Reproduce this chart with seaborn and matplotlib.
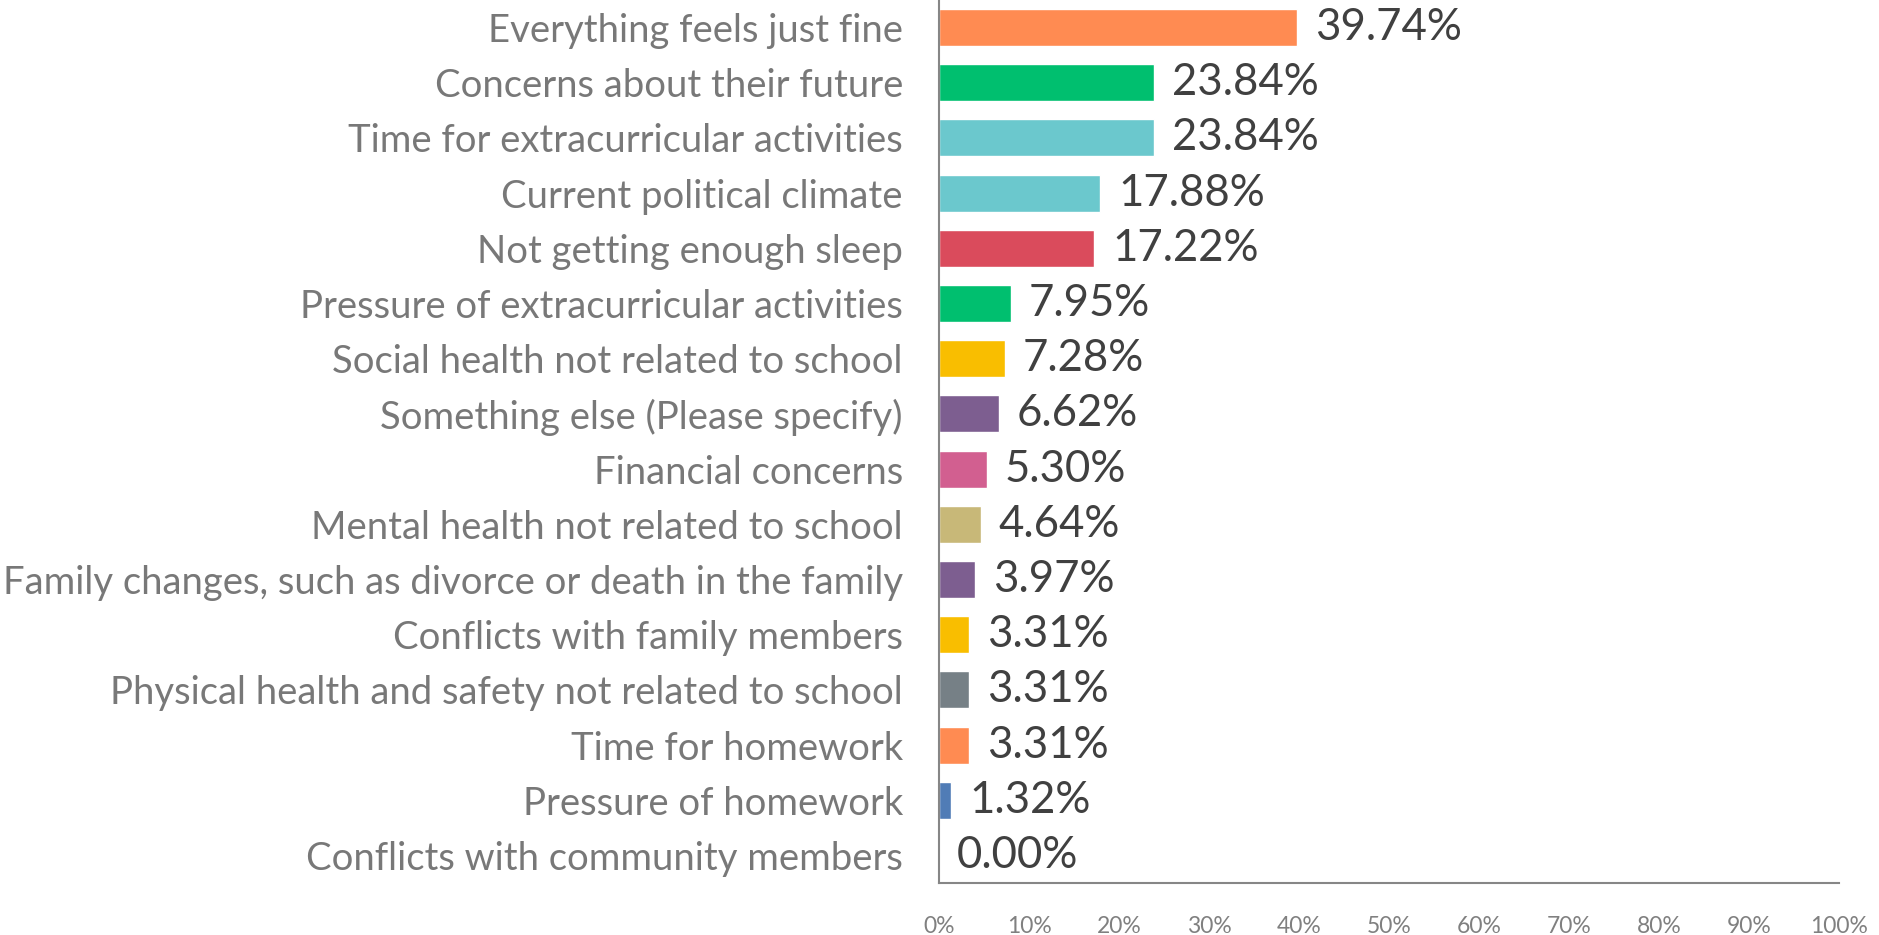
import matplotlib
matplotlib.use("Agg")
import matplotlib.pyplot as plt
import seaborn as sns
import pandas as pd
from matplotlib.ticker import FixedLocator, MultipleLocator, PercentFormatter

categories = [
    "Everything feels just fine",
    "Concerns about their future",
    "Time for extracurricular activities",
    "Current political climate",
    "Not getting enough sleep",
    "Pressure of extracurricular activities",
    "Social health not related to school",
    "Something else (Please specify)",
    "Financial concerns",
    "Mental health not related to school",
    "Family changes, such as divorce or death in the family",
    "Conflicts with family members",
    "Physical health and safety not related to school",
    "Time for homework",
    "Pressure of homework",
    "Conflicts with community members",
]
values = [39.74, 23.84, 23.84, 17.88, 17.22, 7.95, 7.28, 6.62,
          5.30, 4.64, 3.97, 3.31, 3.31, 3.31, 1.32, 0.00]
colors = [
    "#FF8B52", "#00BF6F", "#6BC8CD", "#6BC8CD", "#DA4B5C", "#00BF6F",
    "#F9BE00", "#7D5E90", "#D25F90", "#C8B878", "#7D5E90", "#F9BE00",
    "#768086", "#FF8B52", "#507CB6", "#A0A0A0",
]

df = pd.DataFrame({"answer": categories, "share": values})

sns.set_style("white")
plt.rcParams["font.family"] = ["Lato", "DejaVu Sans"]

fig = plt.figure(figsize=(18.79, 9.35), dpi=100)
ax = fig.add_axes([939 / 1879, 1 - 883 / 935, 900 / 1879, 883 / 935])

sns.barplot(data=df, y="answer", x="share", hue="answer", palette=colors,
            legend=False, width=0.67, saturation=1, ax=ax)

ax.set_xlim(0, 100)
ax.set_ylim(len(categories) - 0.5, -0.5)
ax.set_xlabel("")
ax.set_ylabel("")

# value labels at bar ends
for cont, v in zip(ax.containers, values):
    ax.bar_label(cont, labels=[f"{v:.2f}%"], padding=13, fontsize=31.5,
                 color="#404040")

# axes styling, Excel-like
grey = "#868686"
for side in ["top", "right"]:
    ax.spines[side].set_visible(False)
for side in ["left", "bottom"]:
    ax.spines[side].set_color(grey)
    ax.spines[side].set_linewidth(1.5)

ax.xaxis.set_major_locator(MultipleLocator(10))
ax.xaxis.set_major_formatter(PercentFormatter(decimals=0))
ax.tick_params(axis="x", direction="out", length=10, width=1.5, color=grey,
               labelsize=16.5, labelcolor="#808080", pad=14)

ax.yaxis.set_minor_locator(FixedLocator([i - 0.5 for i in range(len(categories) + 1)]))
ax.tick_params(axis="y", which="major", length=0, labelsize=27.5,
               labelcolor="#787878", pad=26)
ax.tick_params(axis="y", which="minor", direction="out", length=10,
               width=1.5, color=grey)

fig.savefig("out.png", dpi=100)
